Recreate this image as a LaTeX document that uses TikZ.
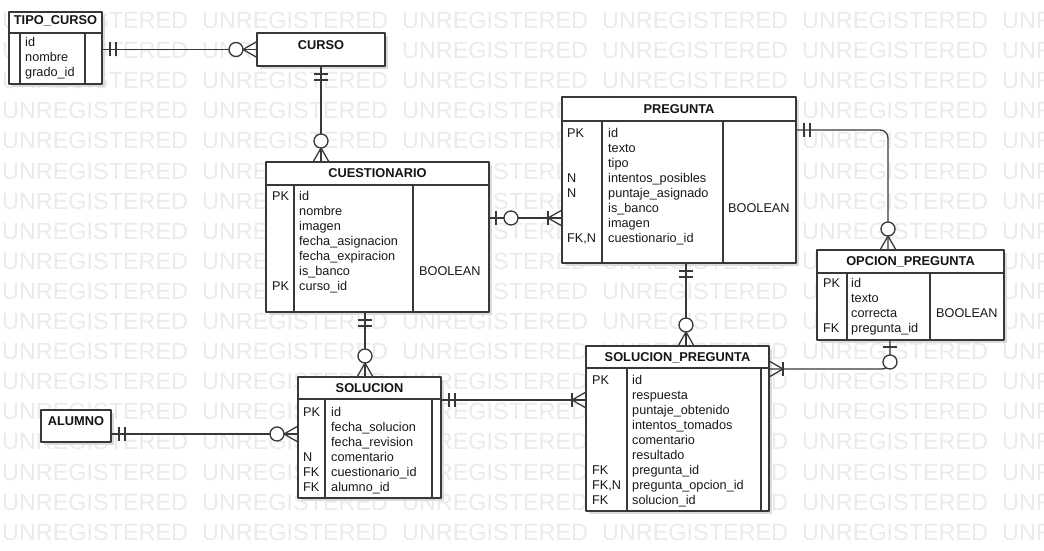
\documentclass[tikz,border=0pt]{standalone}
\usepackage{fontspec}
\setmainfont{Liberation Sans}
\usetikzlibrary{calc,shadows}

\tikzset{
  ln/.style={draw=black!78, line width=1.3pt, line join=round},
  tbl/.style={ln, fill=white, rectangle, inner sep=0pt, outer sep=0pt,
    drop shadow={shadow xshift=3pt, shadow yshift=-3pt, fill=black!14, opacity=1}},
  ttl/.style={anchor=base, inner sep=0pt, font=\fontsize{12.8}{15}\selectfont\bfseries, text=black!92},
  cell/.style={anchor=base west, inner sep=0pt, font=\fontsize{12.7}{15}\selectfont, text=black!90},
  wm/.style={anchor=base west, inner sep=0pt, font=\fontsize{23.4}{24}\selectfont, text=black!8},
}

% entity box: name, x1, y1, x2, y2, title, title baseline
\newcommand{\entity}[7]{%
  \node[tbl, minimum width={#4-#2}, minimum height={#5-#3}] (#1) at ({(#2+#4)/2},{(#3+#5)/2}) {};
  \node[ttl] (#1-title) at ({(#2+#4)/2},#7) {#6};
}
% header rule and two column rules: name, header offset, column offsets
\newcommand{\tablegrid}[4]{%
  \draw[ln] ($(#1.north west)+(0,#2)$) -- ($(#1.north east)+(0,#2)$);
  \draw[ln] ($(#1.north west)+(#3,#2)$) -- ($(#1.south west)+(#3,0)$);
  \draw[ln] ($(#1.north west)+(#4,#2)$) -- ($(#1.south west)+(#4,0)$);
}
% key column: name, x, first baseline, row/key list
\newcommand{\keycol}[4]{%
  \foreach \i/\k in {#4} {\node[cell] (#1-k\i) at (#2,{#3+15*(\i-1)}) {\k};}
}
% attribute column: name, x, first baseline, list
\newcommand{\attrcol}[4]{%
  \foreach[count=\i] \a in {#4} {\node[cell] (#1-a\i) at (#2,{#3+15*(\i-1)}) {\a};}
}
% crow's foot ends: point, outward direction
\newcommand{\mandone}[2]{\begin{scope}[shift={#1}, rotate=#2]
  \draw[ln] (8,-7) -- (8,7) (14,-7) -- (14,7);\end{scope}}
\newcommand{\zeromany}[2]{\begin{scope}[shift={#1}, rotate=#2]
  \draw[ln] (0,-8) -- (14,0) -- (0,8);
  \draw[ln, fill=white] (21,0) circle[radius=7];\end{scope}}
\newcommand{\onemany}[2]{\begin{scope}[shift={#1}, rotate=#2]
  \draw[ln] (0,-8) -- (14,0) -- (0,8);
  \draw[ln] (14,-7) -- (14,7);\end{scope}}
\newcommand{\zeroone}[2]{\begin{scope}[shift={#1}, rotate=#2]
  \draw[ln] (7,-7) -- (7,7);
  \draw[ln, fill=white] (22,0) circle[radius=7];\end{scope}}

\begin{document}
\begin{tikzpicture}[x=1pt, y=-1pt]
\useasboundingbox (0,0) rectangle (1044,551);
\fill[white] (0,0) rectangle (1044,551);

% watermark rows
\foreach \r in {0,...,17} {\foreach \c in {0,...,5} {
  \node[wm] (wm\r-\c) at ({2+200*\c},{28.5+30.1*\r}) {UNREGISTERED};}}

% TIPO_CURSO
\entity{tipo}{9}{12}{102}{84}{TIPO\_CURSO}{25}
\tablegrid{tipo}{21}{11}{76}
\attrcol{tipo}{25}{47}{id, nombre, grado\_id}

% CURSO
\entity{curso}{257}{33}{385}{66}{CURSO}{50}

% CUESTIONARIO
\entity{cue}{266}{162}{489}{312}{CUESTIONARIO}{177}
\tablegrid{cue}{23}{28}{147}
\keycol{cue}{272}{200}{1/PK, 7/PK}
\attrcol{cue}{299}{200}{id, nombre, imagen, fecha\_asignacion, fecha\_expiracion, is\_banco, curso\_id}
\node[cell] (cue-type) at (419,275) {BOOLEAN};

% PREGUNTA
\entity{preg}{562}{97}{796}{263}{PREGUNTA}{113}
\tablegrid{preg}{24}{40}{161}
\keycol{preg}{567}{137}{1/PK, 4/N, 5/N, 8/{FK,N}}
\attrcol{preg}{608}{137}{id, texto, tipo, intentos\_posibles, puntaje\_asignado, is\_banco, imagen, cuestionario\_id}
\node[cell] (preg-type) at (728,212) {BOOLEAN};

% OPCION_PREGUNTA
\entity{opc}{817}{250}{1004}{340}{OPCION\_PREGUNTA}{265}
\tablegrid{opc}{23}{30}{113}
\keycol{opc}{823}{287}{1/PK, 4/FK}
\attrcol{opc}{851}{287}{id, texto, correcta, pregunta\_id}
\node[cell] (opc-type) at (936,317) {BOOLEAN};

% SOLUCION_PREGUNTA
\entity{sp}{586}{346}{769}{511}{SOLUCION\_PREGUNTA}{361}
\tablegrid{sp}{22}{41}{175}
\keycol{sp}{592}{384}{1/PK, 7/FK, 8/{FK,N}, 9/FK}
\attrcol{sp}{632}{384}{id, respuesta, puntaje\_obtenido, intentos\_tomados, comentario, resultado, pregunta\_id, pregunta\_opcion\_id, solucion\_id}

% SOLUCION
\entity{sol}{298}{377}{441}{498}{SOLUCION}{392.5}
\tablegrid{sol}{22}{27}{134}
\keycol{sol}{303}{416}{1/PK, 4/N, 5/FK, 6/FK}
\attrcol{sol}{331}{416}{id, fecha\_solucion, fecha\_revision, comentario, cuestionario\_id, alumno\_id}

% ALUMNO
\entity{alumno}{41}{410}{111}{442}{ALUMNO}{425}

% connector lanes
\coordinate (c3) at (0,218);
\coordinate (c4) at (888,130);
\coordinate (c5) at (686,0);
\coordinate (c6) at (365,0);
\coordinate (c7) at (0,400);
\coordinate (c8) at (0,434);
\coordinate (c9) at (890,369);

% relationships
\draw[ln] (tipo.east |- curso.west) -- (curso.west);
\draw[ln] (curso.south) -- (cue.north -| curso.south);
\draw[ln] (cue.east |- c3) -- (preg.west |- c3);
\draw[ln, rounded corners=8] (preg.east |- c4) -| (opc.north -| c4);
\draw[ln] (preg.south -| c5) -- (sp.north -| c5);
\draw[ln] (cue.south -| c6) -- (sol.north -| c6);
\draw[ln] (sol.east |- c7) -- (sp.west |- c7);
\draw[ln] (alumno.east |- c8) -- (sol.west |- c8);
\draw[ln, rounded corners=8] (sp.east |- c9) -| (opc.south -| c9);

% cardinality marks
\mandone{(tipo.east |- curso.west)}{0}
\zeromany{(curso.west)}{180}
\mandone{(curso.south)}{-90}
\zeromany{(cue.north -| curso.south)}{90}
\zeroone{(cue.east |- c3)}{0}
\onemany{(preg.west |- c3)}{180}
\mandone{(preg.east |- c4)}{0}
\zeromany{(opc.north -| c4)}{90}
\mandone{(preg.south -| c5)}{-90}
\zeromany{(sp.north -| c5)}{90}
\mandone{(cue.south -| c6)}{-90}
\zeromany{(sol.north -| c6)}{90}
\mandone{(sol.east |- c7)}{0}
\onemany{(sp.west |- c7)}{180}
\mandone{(alumno.east |- c8)}{0}
\zeromany{(sol.west |- c8)}{180}
\zeroone{(opc.south -| c9)}{-90}
\onemany{(sp.east |- c9)}{0}
\end{tikzpicture}
\end{document}
